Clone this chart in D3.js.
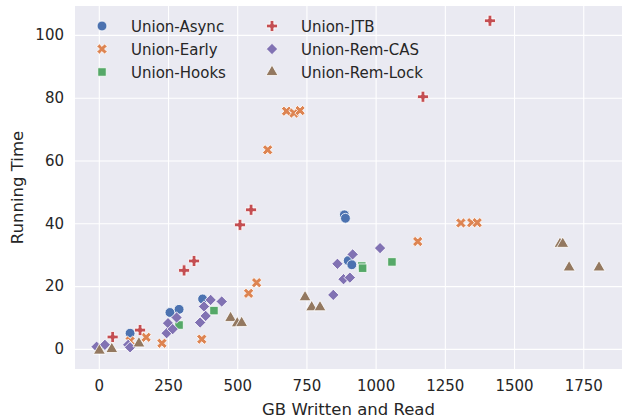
<!DOCTYPE html>
<html><head><meta charset="utf-8">
<script src="https://cdn.jsdelivr.net/npm/d3@7"></script>
<style>body{margin:0;background:#fff}svg text{font-family:"DejaVu Sans",sans-serif;fill:#262626}</style>
</head><body><svg id="c" width="625" height="419"></svg>
<script>
const seriesNames = ["Union-Async","Union-Early","Union-Hooks","Union-JTB","Union-Rem-CAS","Union-Rem-Lock"];
const colors = ["#4C72B0","#DD8452","#55A868","#C44E52","#8172B3","#937860"];
const asyncX = [0, 113, 257, 290, 375, 887, 891, 901, 914];
const asyncY = [0, 5, 11.6, 12.6, 15.9, 42.7, 41.6, 28.1, 26.8];
const earlyX = [113, 171, 228, 372, 541, 570, 610, 678, 705, 727, 1152, 1308, 1347, 1367];
const earlyY = [2.5, 3.7, 1.8, 3.1, 17.7, 21.1, 63.4, 75.7, 75.1, 75.9, 34.2, 40.1, 40.2, 40.2];
const hooksX = [0, 290, 416, 950, 953, 1059];
const hooksY = [0, 7.6, 12.2, 26.4, 25.7, 27.7];
const jtbX = [50, 149, 308, 344, 510, 550, 1171, 1413];
const jtbY = [3.8, 6, 25, 28, 39.5, 44.3, 80.3, 104.5];
const casX = [-8, 22, 106, 113, 245, 250, 267, 281, 366, 380, 386, 404, 444, 847, 862, 884, 907, 917, 1016];
const casY = [0.7, 1.3, 1.3, 0.5, 5, 8.2, 6.3, 10, 8.4, 13.5, 10.5, 15.6, 15.1, 17.2, 27.1, 22.2, 22.7, 30.1, 32.1];
const lockX = [2, 47, 145, 476, 500, 516, 745, 769, 799, 1666, 1676, 1699, 1807];
const lockY = [-0.3, 0.2, 2, 10.1, 8.4, 8.5, 16.7, 13.5, 13.5, 33.7, 33.7, 26.2, 26.2];
const xTicks = [0, 250, 500, 750, 1000, 1250, 1500, 1750];
const yTicks = [0, 20, 40, 60, 80, 100];

const allX = [asyncX, earlyX, hooksX, jtbX, casX, lockX];
const allY = [asyncY, earlyY, hooksY, jtbY, casY, lockY];

const L = 75, R = 622, T = 6, B = 369;
const svg = d3.select("#c");
const x = d3.scaleLinear().domain([-86, 1890]).range([L, R]);
const y = d3.scaleLinear().domain([-6.4, 109.2]).range([B, T]);

svg.append("rect").attr("x", L).attr("y", T).attr("width", R - L).attr("height", B - T).attr("fill", "#EAEAF2");

const xa = svg.append("g").attr("transform", `translate(0,${B})`)
  .call(d3.axisBottom(x).tickValues(xTicks).tickSize(-(B - T)).tickPadding(11).tickFormat(d3.format("d")));
const ya = svg.append("g").attr("transform", `translate(${L},0)`)
  .call(d3.axisLeft(y).tickValues(yTicks).tickSize(-(R - L)).tickPadding(11).tickFormat(d3.format("d")));
[xa, ya].forEach(a => {
  a.select(".domain").remove();
  a.selectAll(".tick line").attr("stroke", "#fff").attr("stroke-width", 1.1);
  a.selectAll(".tick text").attr("font-size", 15).style("font-family", "DejaVu Sans").attr("fill", "#262626");
});

svg.append("text").attr("x", (L + R) / 2).attr("y", 415).attr("text-anchor", "middle").attr("font-size", 16.5).text("GB Written and Read");
svg.append("text").attr("transform", `translate(23,${(T + B) / 2}) rotate(-90)`).attr("text-anchor", "middle").attr("font-size", 16.5).text("Running Time");

const shapes = [
  {t: d3.symbolCircle, s: 76, r: 0},
  {t: d3.symbolCross, s: 66, r: 45},
  {t: d3.symbolSquare, s: 72, r: 0},
  {t: d3.symbolCross, s: 68, r: 0},
  {t: d3.symbolSquare, s: 64, r: 45},
  {t: d3.symbolTriangle, s: 62, r: 0}
];
const sym = i => d3.symbol().type(shapes[i].t).size(shapes[i].s)();

const plot = svg.append("g");
seriesNames.forEach((n, i) => {
  const pts = allX[i].map((v, j) => [v, allY[i][j]]);
  plot.selectAll(null).data(pts).enter().append("path")
    .attr("d", sym(i))
    .attr("transform", d => `translate(${x(d[0])},${y(d[1]) + (i === 5 ? 0.8 : 0)}) rotate(${shapes[i].r})`)
    .attr("fill", colors[i]).attr("stroke", "#fff").attr("stroke-width", 0.8);
});

// legend
const lg = svg.append("g");
seriesNames.forEach((n, i) => {
  const col = Math.floor(i / 3), row = i % 3;
  const mx = col === 0 ? 102 : 272, my = 26 + row * 23;
  lg.append("path").attr("d", sym(i)).attr("transform", `translate(${mx},${my}) rotate(${shapes[i].r})`)
    .attr("fill", colors[i]).attr("stroke", "#fff").attr("stroke-width", 0.8);
  lg.append("text").attr("x", mx + 29).attr("y", my + 5.5).attr("font-size", 15).text(n);
});
</script></body></html>
